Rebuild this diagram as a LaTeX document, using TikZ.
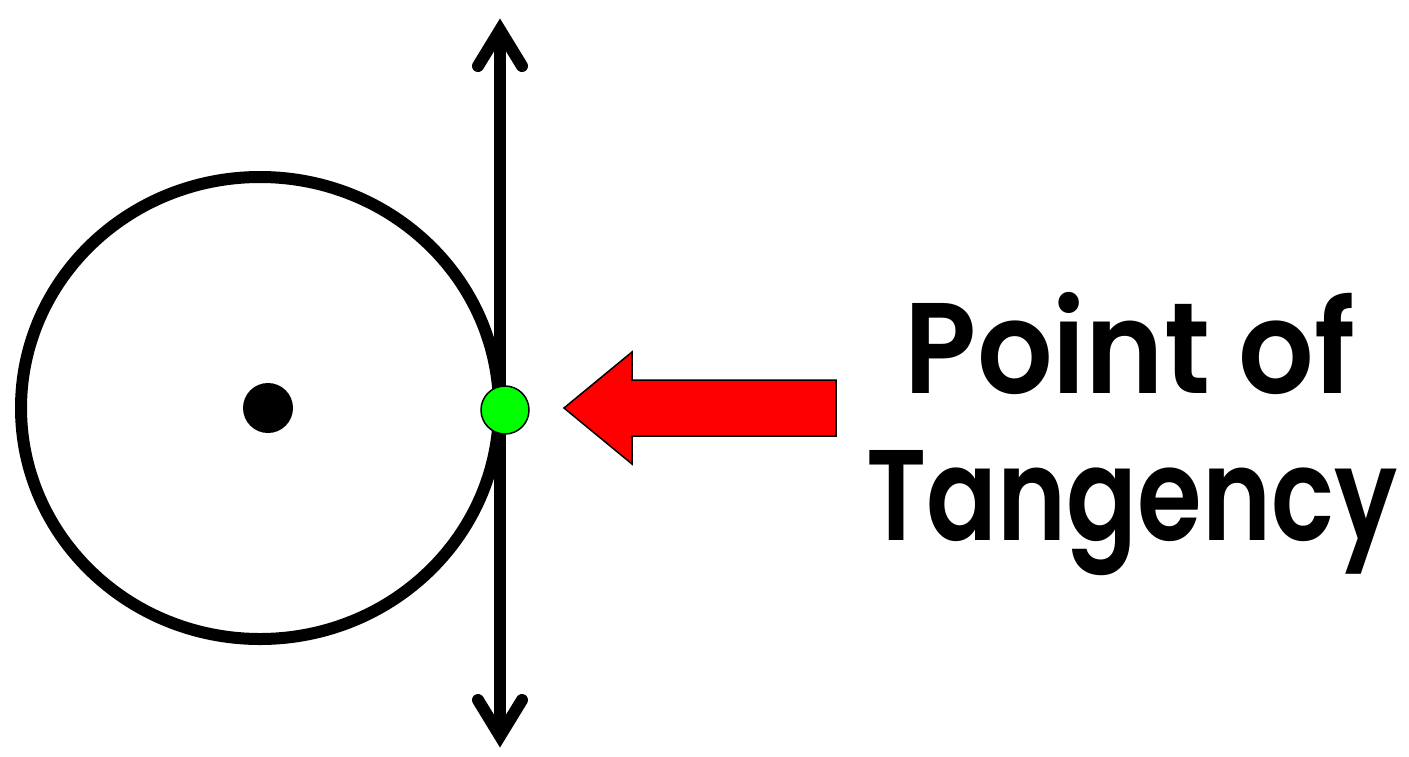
\documentclass[tikz,border=0pt]{standalone}
\usepackage{fontspec}
\newfontfamily\lblfont{Poppins SemiBold}
\usetikzlibrary{calc}
\begin{document}
\begin{tikzpicture}[x=1pt,y=-1pt,
  blk/.style={line width=12pt,draw=black},
  barb/.style={line width=12pt,line cap=round,line join=miter},
  lbl/.style={anchor=base,inner sep=0pt,font=\lblfont\fontsize{129pt}{150pt}\selectfont}]
\useasboundingbox (0,0) rectangle (1409,756);
% circle
\draw[blk] (260,408) ellipse [x radius=239, y radius=231];
\node[circle,fill=black,minimum size=50pt,inner sep=0pt] (ctr) at (268,408) {};
% tangent line
\coordinate (top) at (500,30);
\coordinate (bot) at (500,736);
\draw[line width=12pt] (top) -- (bot);
\draw[barb] ($(top)+(-22,36)$) -- (top) -- ($(top)+(22,36)$);
\draw[barb] ($(bot)+(-22,-36)$) -- (bot) -- ($(bot)+(22,-36)$);
% point of tangency
\node[circle,fill={rgb,255:red,0;green,255;blue,0},draw=black,line width=1.5pt,minimum size=48pt,inner sep=0pt] (pt) at (505,410) {};
% red arrow
\draw[fill=red,draw=black,line width=1.5pt,line join=miter]
  (564,408) -- (632,352) -- (632,380) -- (836,380) -- (836,436) -- (632,436) -- (632,464) -- cycle;
% label
\node[lbl] (l1) at (1130,393) {\scalebox{0.92}[1]{Point of}};
\node[lbl] (l2) at (1132,540) {\scalebox{0.81}[1]{Tangency}};
\end{tikzpicture}
\end{document}
